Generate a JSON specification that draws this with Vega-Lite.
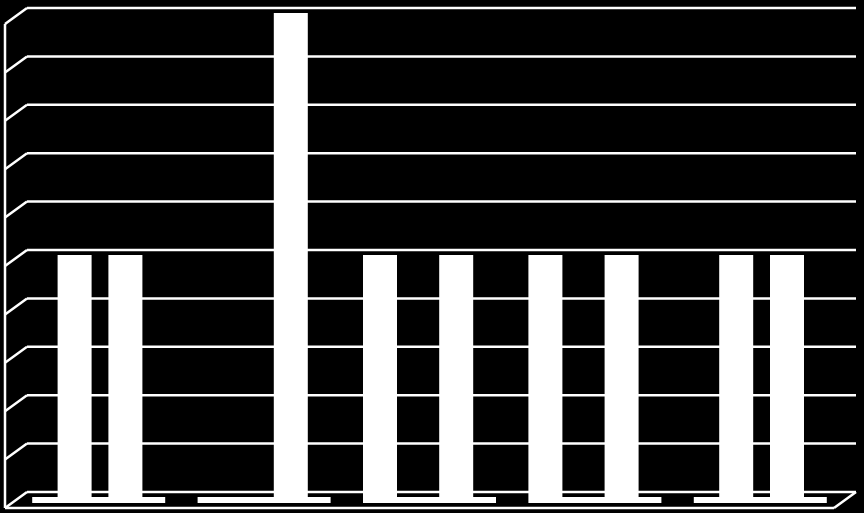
{
  "$schema": "https://vega.github.io/schema/vega-lite/v6.json",
  "description": "3D-style clustered column chart, white on black",
  "width": 829,
  "height": 484,
  "autosize": {"type": "none"},
  "padding": {"left": 27, "top": 8, "right": 8, "bottom": 21},
  "background": "black",
  "config": {"view": {"stroke": null}},
  "datasets": {
    "bars": [
      {"category": "Category 1", "series": "Series 1", "value": 0},
      {"category": "Category 1", "series": "Series 2", "value": 1},
      {"category": "Category 1", "series": "Series 3", "value": 0},
      {"category": "Category 1", "series": "Series 4", "value": 1},
      {"category": "Category 2", "series": "Series 1", "value": 0},
      {"category": "Category 2", "series": "Series 2", "value": 0},
      {"category": "Category 2", "series": "Series 3", "value": 0},
      {"category": "Category 2", "series": "Series 4", "value": 2},
      {"category": "Category 3", "series": "Series 1", "value": 1},
      {"category": "Category 3", "series": "Series 2", "value": 0},
      {"category": "Category 3", "series": "Series 3", "value": 0},
      {"category": "Category 3", "series": "Series 4", "value": 1},
      {"category": "Category 4", "series": "Series 1", "value": 1},
      {"category": "Category 4", "series": "Series 2", "value": 0},
      {"category": "Category 4", "series": "Series 3", "value": 0},
      {"category": "Category 4", "series": "Series 4", "value": 1},
      {"category": "Category 5", "series": "Series 1", "value": 0},
      {"category": "Category 5", "series": "Series 2", "value": 1},
      {"category": "Category 5", "series": "Series 3", "value": 0},
      {"category": "Category 5", "series": "Series 4", "value": 1}
    ],
    "grid": [
      {"v": 0}, {"v": 0.2}, {"v": 0.4}, {"v": 0.6}, {"v": 0.8}, {"v": 1},
      {"v": 1.2}, {"v": 1.4}, {"v": 1.6}, {"v": 1.8}, {"v": 2}
    ]
  },
  "layer": [
    {
      "data": {"name": "grid"},
      "mark": {"type": "rule", "color": "white", "strokeWidth": 2.5},
      "encoding": {
        "y": {"field": "v", "type": "quantitative", "scale": {"domain": [0, 2], "nice": false, "zero": true}, "axis": null},
        "x": {"value": 0},
        "x2": {"value": "width"}
      }
    },
    {
      "data": {"name": "grid"},
      "mark": {"type": "rule", "color": "white", "strokeWidth": 2.5, "y2Offset": 16},
      "encoding": {
        "y": {"field": "v", "type": "quantitative"},
        "y2": {"field": "v"},
        "x": {"value": 0},
        "x2": {"value": -22}
      }
    },
    {
      "data": {"values": [{}]},
      "mark": {"type": "rule", "color": "white", "strokeWidth": 2.5, "yOffset": 16, "y2Offset": 16},
      "encoding": {
        "y": {"datum": 2, "type": "quantitative"},
        "y2": {"datum": 0},
        "x": {"value": -22}
      }
    },
    {
      "data": {"values": [{}]},
      "mark": {"type": "rule", "color": "white", "strokeWidth": 2.5, "yOffset": 16, "y2Offset": 16},
      "encoding": {
        "y": {"datum": 0, "type": "quantitative"},
        "y2": {"datum": 0},
        "x": {"value": -22},
        "x2": {"value": 807}
      }
    },
    {
      "data": {"values": [{}]},
      "mark": {"type": "rule", "color": "white", "strokeWidth": 2.5, "yOffset": 16},
      "encoding": {
        "y": {"datum": 0, "type": "quantitative"},
        "y2": {"datum": 0},
        "x": {"value": 807},
        "x2": {"value": "width"}
      }
    },
    {
      "data": {"name": "bars"},
      "transform": [{"filter": "datum.series === 'Series 1'"}],
      "mark": {"type": "bar", "color": "white", "width": 133, "yOffset": 5, "y2Offset": 11},
      "encoding": {
        "x": {"field": "category", "type": "nominal", "scale": {"range": [-11, 816], "paddingInner": 0, "paddingOuter": 0}, "axis": null},
        "y": {"datum": 0, "type": "quantitative"},
        "y2": {"datum": 0}
      }
    },
    {
      "data": {"name": "bars"},
      "transform": [{"filter": "datum.value > 0"}],
      "mark": {"type": "bar", "color": "white", "width": 34, "yOffset": 5, "y2Offset": 5},
      "encoding": {
        "x": {"field": "category", "type": "nominal", "axis": null},
        "xOffset": {"field": "series", "type": "nominal", "scale": {"domain": ["Series 1", "Series 2", "Series 3", "Series 4"], "range": [20.5, 122.1]}},
        "y": {"field": "value", "type": "quantitative"},
        "y2": {"datum": 0}
      }
    }
  ]
}
